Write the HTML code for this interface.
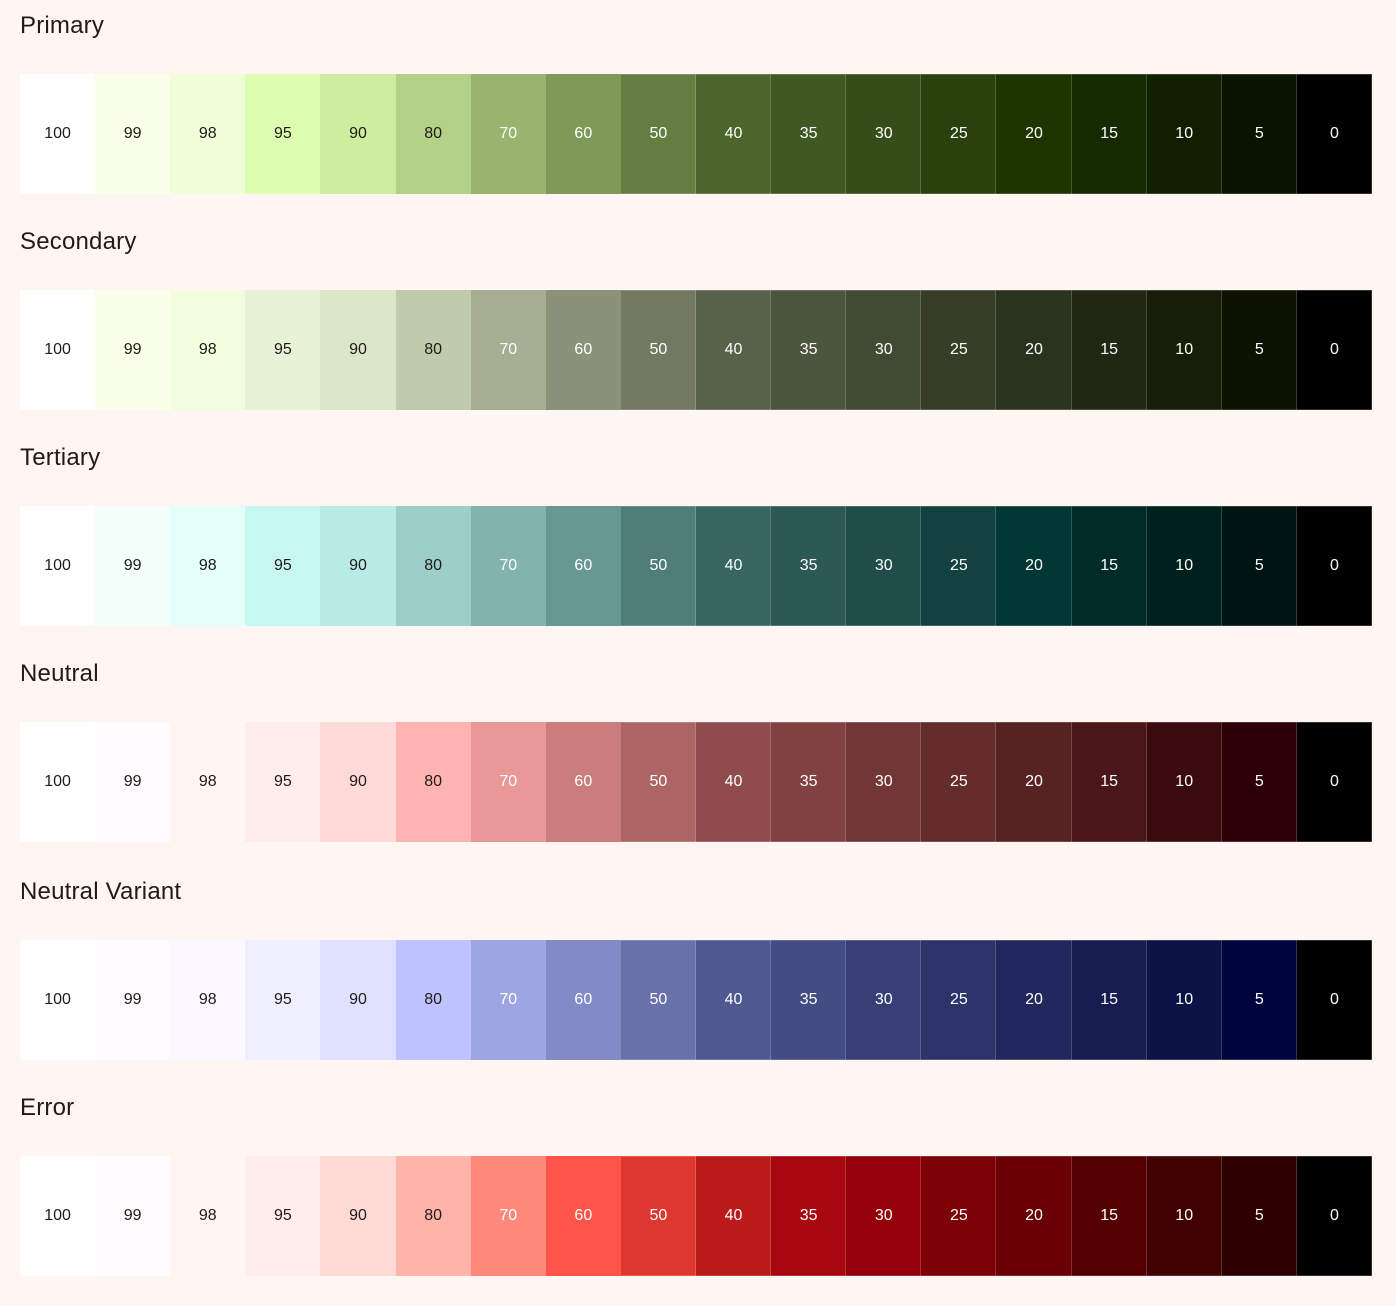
<!DOCTYPE html>
<html><head><meta charset="utf-8"><style>
body{margin:0;width:1396px;height:1306px;background:#fff5f3;font-family:"Liberation Sans",sans-serif;position:relative;overflow:hidden}
.title{position:absolute;left:20px;font-size:24px;font-weight:500;color:#201a19;letter-spacing:0.2px}
.row{position:absolute;left:20px;width:1352px;height:120px;display:flex}
.cell{flex:1 1 0;height:120px;display:flex;align-items:center;justify-content:center;font-size:16px;box-sizing:border-box}
.dark{box-shadow:inset -1px 0 0 rgba(255,255,255,0.18),inset 0 1px 0 rgba(255,255,255,0.18),inset 0 -1px 0 rgba(255,255,255,0.18)}
</style></head><body>
<script>
const tones=[100,99,98,95,90,80,70,60,50,40,35,30,25,20,15,10,5,0];
const paletteNames=["Primary","Secondary","Tertiary","Neutral","Neutral Variant","Error"];
const primary=["#ffffff","#f9ffe9","#f0fdd8","#ddfdb0","#cfed9f","#b3d187","#98b46f","#7e9958","#647e42","#4c652c","#405923","#354d18","#2a410e","#1e3500","#162a00","#0f1f00","#081400","#000000"];
const secondary=["#ffffff","#f9ffe9","#f2fcdf","#e8f2d6","#dce6c8","#c0caad","#a5ae93","#8a9379","#717a60","#586149","#4c553d","#414a33","#363e28","#2a331e","#202814","#161e0a","#0c1303","#000000"];
const tertiary=["#ffffff","#f2fffa","#e3fff8","#c6f8f1","#b8ebe5","#9cceca","#82b3ae","#689894","#4f7e7a","#386562","#2c5956","#204d4a","#13413f","#003734","#002b28","#00201e","#001413","#000000"];
const neutral=["#ffffff","#fffbff","#fff5f3","#ffedeb","#ffdad8","#ffb3b2","#e99797","#cb7d7d","#ad6464","#904c4c","#824141","#733636","#652c2c","#572222","#4a1619","#3b0a0f","#2c0006","#000000"];
const neutralVariant=["#ffffff","#fffbff","#fbf8ff","#f0efff","#e0e0ff","#bec2ff","#9da6e2","#838bc6","#6971aa","#50598f","#444d83","#383f76","#2d3469","#22285d","#171c51","#0b1346","#00063b","#000000"];
const error=["#ffffff","#fffbff","#fff5f3","#ffede9","#ffdad5","#ffb4a9","#ff8a7c","#ff5449","#de3730","#ba1a1a","#a80710","#93000a","#7e0007","#690005","#540003","#410002","#2d0001","#000000"];
const palettes=[primary,secondary,tertiary,neutral,neutralVariant,error];
const rowTops=[74,290,506,722,940,1156];
palettes.forEach((cols,i)=>{
  const top=rowTops[i];
  const t=document.createElement('div');
  t.className='title';
  t.style.top=(top-62)+'px';
  t.textContent=paletteNames[i];
  
  
  document.body.appendChild(t);
  const r=document.createElement('div');
  r.className='row';
  r.style.top=top+'px';
  
  
  cols.forEach((c,j)=>{
    const d=document.createElement('div');
    d.className='cell'+(tones[j]<=50?' dark':'');
    d.style.background=c;
    d.style.color=tones[j]<=70?'#ffffff':'#201a19';
    d.textContent=tones[j];
    
    
    r.appendChild(d);
  });
  document.body.appendChild(r);
});
</script>
</body></html>
